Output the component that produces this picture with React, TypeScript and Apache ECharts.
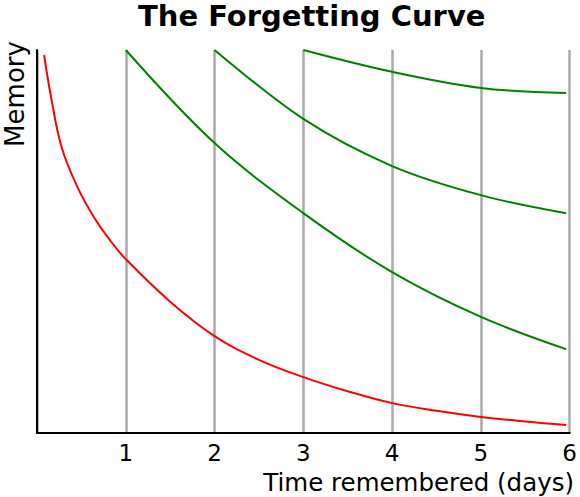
import React, { useEffect, useRef } from "react";
import * as echarts from "echarts";

const dayTicks = [0, 1, 2, 3, 4, 5, 6];
const redDays = [0.08, 0.16, 0.28, 0.46, 0.64, 0.82, 1, 1.5, 2, 2.5, 3, 3.5, 4, 4.5, 5, 5.5, 5.96];
const redMemory = [98.7, 87.5, 74.4, 64.0, 56.4, 50.4, 45.4, 34.3, 25.3, 19.1, 14.6, 10.9, 7.8, 5.8, 4.2, 3.0, 2.1];
const review1Days = [1, 2, 3, 4, 5, 5.96];
const review1Memory = [100, 75.7, 57.4, 42, 30.3, 21.9];
const review2Days = [2, 3, 4, 5, 5.96];
const review2Memory = [100, 82, 69.7, 62.1, 57.4];
const review3Days = [3, 4, 5, 5.96];
const review3Memory = [100, 94.3, 90.1, 88.8];

const FONT = "DejaVu Sans";

const pairs = (xs: number[], ys: number[]) => xs.map((x, i) => [x, ys[i]]);

export default function App() {
  const ref = useRef<HTMLDivElement>(null);
  useEffect(() => {
    if (!ref.current) return;
    const chart = echarts.init(ref.current, undefined, { renderer: "svg" });
    const lineSeries = (data: number[][], color: string, smooth: number) => ({
      type: "line",
      data,
      showSymbol: false,
      smooth,
      clip: false,
      lineStyle: { color, width: 2 },
      z: 3,
    });
    chart.setOption({
      animation: false,
      backgroundColor: "#ffffff",
      title: {
        text: "The Forgetting Curve",
        left: 133,
        top: 0,
        textStyle: {
          fontFamily: FONT,
          fontWeight: "bold",
          fontSize: 29,
          lineHeight: 22,
          color: "#000",
        },
      },
      grid: { left: 37, right: 7, top: 50, bottom: 64 },
      xAxis: {
        type: "value",
        min: dayTicks[0],
        max: dayTicks[dayTicks.length - 1],
        interval: 1,
        axisLine: { show: true, lineStyle: { color: "#000", width: 2 } },
        axisTick: { show: false },
        axisLabel: {
          fontFamily: FONT,
          fontSize: 23,
          color: "#000",
          margin: 8,
          formatter: (v: number) => (v === 0 ? "" : String(v)),
        },
        splitLine: { show: true, lineStyle: { color: "#aaaaaa", width: 2.5 } },
      },
      yAxis: {
        type: "value",
        min: 0,
        max: 100,
        axisLine: { show: true, lineStyle: { color: "#000", width: 2 } },
        axisTick: { show: false },
        axisLabel: { show: false },
        splitLine: { show: false },
      },
      graphic: [
        {
          type: "text",
          x: 15,
          y: 94,
          rotation: Math.PI / 2,
          style: {
            text: "Memory",
            fontFamily: FONT,
            fontSize: 26,
            fill: "#000",
            textAlign: "center",
            textVerticalAlign: "middle",
          },
        },
        {
          type: "text",
          x: 574,
          y: 482,
          style: {
            text: "Time remembered (days)",
            fontFamily: FONT,
            fontSize: 24.5,
            fill: "#000",
            textAlign: "right",
            textVerticalAlign: "middle",
          },
        },
      ],
      series: [
        lineSeries(pairs(redDays, redMemory), "#ff0000", 0.4),
        lineSeries(pairs(review1Days, review1Memory), "#008000", 0.35),
        lineSeries(pairs(review2Days, review2Memory), "#008000", 0.35),
        lineSeries(pairs(review3Days, review3Memory), "#008000", 0.35),
      ],
    });
    return () => chart.dispose();
  }, []);
  return (
    <div
      ref={ref}
      style={{ position: "fixed", left: 0, top: 0, width: 580, height: 497, background: "#fff" }}
    />
  );
}
